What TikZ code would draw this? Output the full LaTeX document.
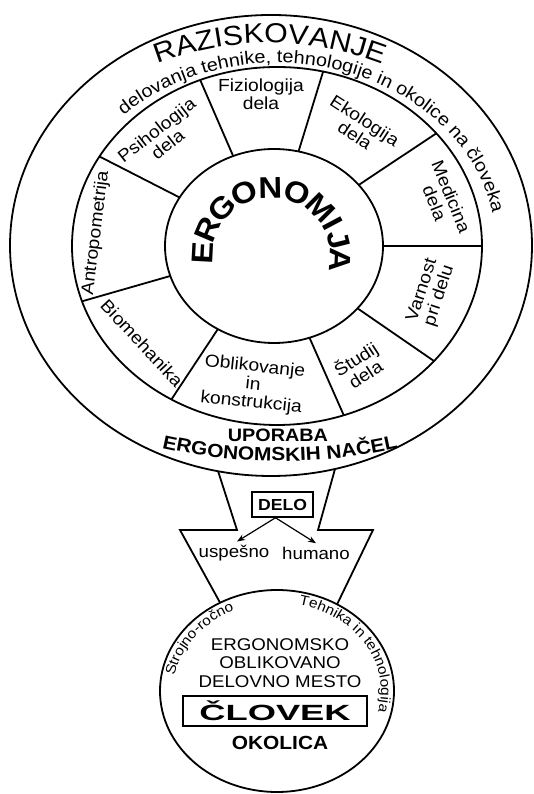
\documentclass[tikz,border=0pt]{standalone}
\usepackage{fontspec}
\setmainfont[FakeStretch=1.1]{Liberation Sans}
\usepackage{graphicx}
\usepackage{tikz}
\usetikzlibrary{arrows.meta,calc,decorations.text}

\newcommand{\fsz}[1]{\fontsize{#1}{#1}\selectfont}

\begin{document}
\begin{tikzpicture}[x=1pt, y=1pt,
    ring/.style={line width=1.8pt},
    seg/.style={font=\fontsize{17.5}{18}\selectfont, align=center, inner sep=0pt},
    >=Stealth
]
\useasboundingbox (0,0) rectangle (534,794);
\coordinate (outc) at (271,548.5);
\coordinate (ringc) at (277,548);
\coordinate (corec) at (274,548);
\coordinate (letc) at (271.5,537.5);
\coordinate (razc) at (270,439);
\coordinate (nacc) at (280,875);
\coordinate (ocirc) at (277,103);

% wheel
\draw[ring] (outc) ellipse [x radius=261, y radius=230.5];
\draw[ring] (ringc) ellipse [x radius=205, y radius=179];
\draw[ring] (corec) ellipse [x radius=109, y radius=97];
\foreach \a in {112,77,39,0,-40,-71,-121,198,150}
  \draw[ring] ($(corec)+(\a:109 and 97)$) -- ($(ringc)+(\a:205 and 179)$);

\path[decorate, decoration={text along path, text align=center,
    text={|\fsz{27.5}|RAZISKOVANJE}}]
  ($(razc)+(125:312)$) arc[start angle=125, end angle=55, radius=312];
\path[decorate, decoration={text along path, text align=center,
    text={|\fsz{18}|delovanja tehnike, tehnologije in okolice na človeka}}]
  ($(ringc)+(142:219 and 183)$) arc[start angle=142, end angle=2, x radius=219, y radius=183];

\node[seg] (fiz) at (261,700) {Fiziologija\\dela};
\node[seg, rotate=38] (psi) at (162,657) {Psihologija\\dela};
\node[seg, rotate=-33] (eko) at (360,666) {Ekologija\\dela};
\node[seg, rotate=-68] (med) at (443,594) {Medicina\\dela};
\node[seg, rotate=72] (var) at (431,501) {Varnost\\pri delu};
\node[seg, rotate=33] (stu) at (360,428) {Študij\\dela};
\node[seg, rotate=-6] (obl) at (253,409) {Oblikovanje\\in\\konstrukcija};
\node[seg, rotate=-47] (bio) at (142,451) {Biomehanika};
\node[seg, rotate=83] (ant) at (96,561) {Antropometrija};

\foreach \l/\a [count=\i] in {E/177,R/157,G/136,O/113,N/91,O/68,M/45,I/28,J/14,A/-3}
  \node[font=\bfseries\fsz{30}, rotate=\a-90, inner sep=0pt] (erg\i) at ($(letc)+(\a:69)$) {\l};

\node[font=\bfseries\fsz{18}] (upo) at (278,359) {UPORABA};
\path[decorate, decoration={text along path, text align=center,
    text={|\bfseries\fsz{19}|ERGONOMSKIH NAČEL}}]
  ($(nacc)+(256:542)$) arc[start angle=256, end angle=284, radius=542];

% funnel
\coordinate (fl1) at ($(outc)+(258.3:261 and 230.5)$);
\coordinate (fr1) at ($(outc)+(284.2:261 and 230.5)$);
\coordinate (fl2) at (237,264);
\coordinate (fr2) at (318,264);
\coordinate (fl3) at (180,264);
\coordinate (fr3) at (373,264);
\coordinate (fl4) at ($(ocirc)+(119.1:117 and 101)$);
\coordinate (fr4) at ($(ocirc)+(59.1:117 and 101)$);
\draw[ring] (fl1) -- (fl2) -- (fl3) -- (fl4);
\draw[ring] (fr1) -- (fr2) -- (fr3) -- (fr4);

\node[draw, line width=1.5pt, font=\bfseries\fsz{16}, minimum width=61, minimum height=25] (delo) at (282.5,289.5) {DELO};
\node[font=\fsz{17}] (usp) at (234,241) {uspešno};
\node[font=\fsz{17}] (hum) at (316,241) {humano};
\draw[-{Stealth[length=8pt,width=6pt]}, line width=1.2pt] ([xshift=-7pt]delo.south) -- ([xshift=3pt]usp.north);
\draw[-{Stealth[length=8pt,width=6pt]}, line width=1.2pt] ([xshift=-7pt]delo.south) -- (hum.north);

% workplace
\draw[ring] (ocirc) ellipse [x radius=117, y radius=101];
\path[decorate, decoration={text along path, text align=center,
    text={|\fsz{14}|Strojno-ročno}}]
  ($(ocirc)+(175:104 and 88)$) arc[start angle=175, end angle=110, x radius=104, y radius=88];
\path[decorate, decoration={text along path, text align=center,
    text={|\fsz{14}|Tehnika in tehnologija}}]
  ($(ocirc)+(80:104 and 88)$) arc[start angle=80, end angle=-16, x radius=104, y radius=88];
\node[font=\fontsize{17}{18.5}\selectfont, align=center] (mesto) at (280,131) {ERGONOMSKO\\OBLIKOVANO\\DELOVNO MESTO};
\node[draw, line width=1.7pt, minimum width=184, minimum height=30, font=\bfseries\fsz{22}] (clovek) at (275,83) {\scalebox{1.5}[1]{ČLOVEK}};
\node[font=\bfseries\fsz{19}] (okol) at (280,51) {OKOLICA};

\end{tikzpicture}
\end{document}
